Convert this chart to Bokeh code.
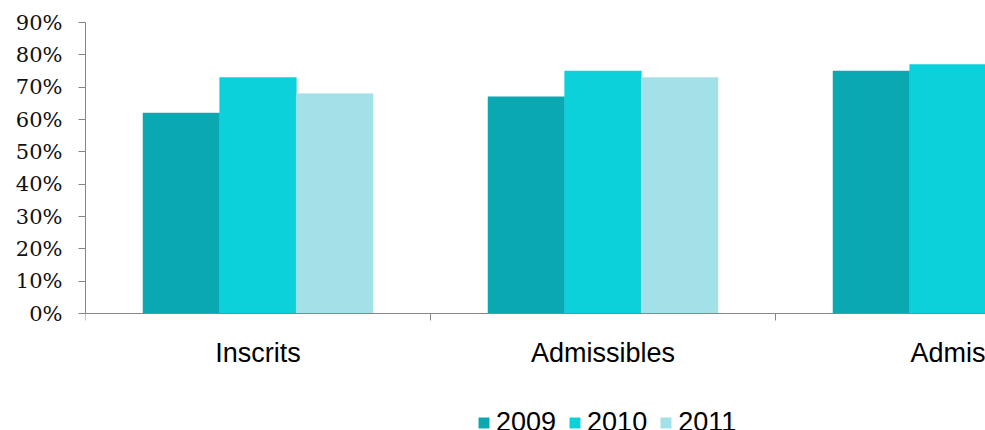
import math
from bokeh.plotting import figure
from bokeh.models import Range1d, FixedTicker, Legend, LegendItem, NumeralTickFormatter
from bokeh.embed import file_html
from bokeh.resources import INLINE

categories = ["Inscrits", "Admissibles", "Admis"]
years = ["2009", "2010", "2011"]
v2009 = [0.62, 0.67, 0.75]
v2010 = [0.73, 0.75, 0.77]
v2011 = [0.68, 0.73, float("nan")]
y_ticks = [0.0, 0.1, 0.2, 0.3, 0.4, 0.5, 0.6, 0.7, 0.8, 0.9]
colors = ["#0AA9B2", "#0CD0DA", "#A2E1E8"]

W, H = 985, 430
LEFT, TOP = 85, 22
AXIS_Y = 313                       # pixel row of the 0% baseline
px_per_unit = (AXIS_Y - TOP) / 0.9
y_start = -(H - AXIS_Y) / px_per_unit
frame_w = W - LEFT
cat_px = 345.0

p = figure(width=W, height=H, output_backend="svg", toolbar_location=None,
           x_range=Range1d(0, frame_w / cat_px), y_range=Range1d(y_start, 0.9),
           min_border_left=LEFT, min_border_right=0, min_border_top=TOP,
           min_border_bottom=0)
p.outline_line_color = None
p.xgrid.visible = False
p.ygrid.visible = False
p.background_fill_color = "white"

bw = 1 / 4.5
series = [v2009, v2010, v2011]
renderers = []
for j, vals in enumerate(series):
    xs = [i + 0.5 + (j - 1) * bw for i in range(len(categories))]
    r = p.vbar(x=xs, top=vals, width=bw, bottom=0, fill_color=colors[j],
               line_color=colors[j], line_width=0.5)
    renderers.append(r)

axis_color = "#868686"
# y axis
p.yaxis.ticker = FixedTicker(ticks=y_ticks)
p.yaxis.bounds = (0, 0.9)
p.yaxis.formatter = NumeralTickFormatter(format="0%")
p.yaxis.axis_line_color = axis_color
p.yaxis.major_tick_line_color = axis_color
p.yaxis.major_tick_in = 0
p.yaxis.major_tick_out = 7
p.yaxis.minor_tick_line_color = None
p.yaxis.major_label_standoff = 16
p.yaxis.major_label_text_font = "DejaVu Serif"
p.yaxis.major_label_text_font_size = "21px"
p.yaxis.major_label_text_color = "#111111"

# x axis, drawn at the 0% line
p.xaxis.fixed_location = 0
p.xaxis.ticker = FixedTicker(ticks=[i + 0.5 for i in range(len(categories))],
                             minor_ticks=[0, 1, 2, 3])
p.xaxis.major_label_overrides = {i + 0.5: c for i, c in enumerate(categories)}
p.xaxis.axis_line_color = axis_color
p.xaxis.major_tick_line_color = None
p.xaxis.major_tick_in = 0
p.xaxis.major_tick_out = 0
p.xaxis.minor_tick_line_color = axis_color
p.xaxis.minor_tick_in = 0
p.xaxis.minor_tick_out = 7
p.xaxis.major_label_standoff = 17
p.xaxis.major_label_text_font = "Liberation Sans"
p.xaxis.major_label_text_font_size = "27px"
p.xaxis.major_label_text_color = "#000000"

legend = Legend(items=[LegendItem(label=y, renderers=[r]) for y, r in zip(years, renderers)],
                orientation="horizontal", location=(392, -8), padding=0, margin=0,
                spacing=12, label_standoff=6, glyph_width=13, glyph_height=13,
                label_height=27, label_text_font="Liberation Sans",
                label_text_font_size="27px", label_text_color="#000000",
                border_line_color=None, background_fill_alpha=0)
p.add_layout(legend, "center")

open("out.html", "w").write(file_html(p, INLINE))
